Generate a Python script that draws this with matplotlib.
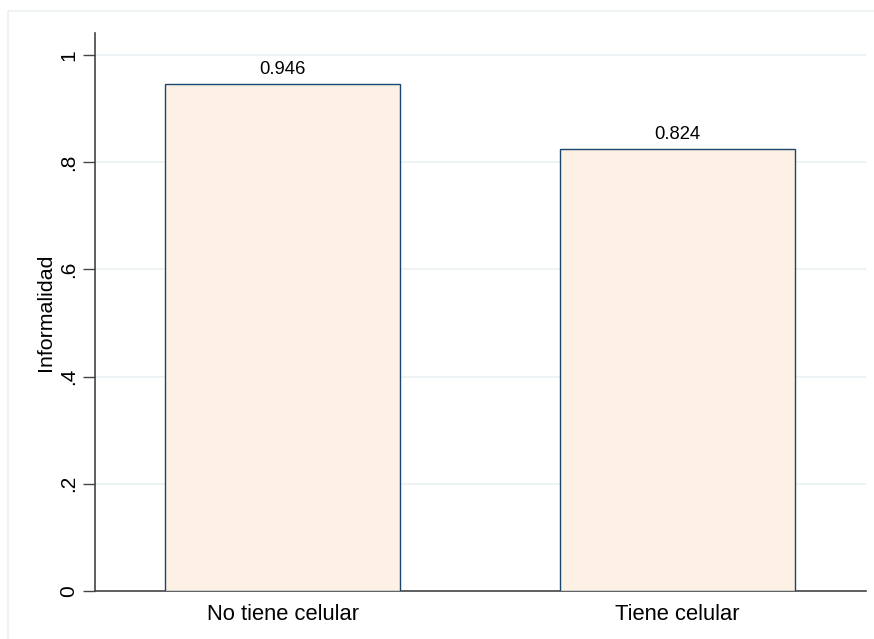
import matplotlib
matplotlib.use("Agg")
import matplotlib.pyplot as plt
from matplotlib.patches import Rectangle

categories = ["No tiene celular", "Tiene celular"]
values = [0.946, 0.824]
value_labels = ["0.946", "0.824"]
yticks = [0, 0.2, 0.4, 0.6, 0.8, 1.0]
ytick_labels = ["0", ".2", ".4", ".6", ".8", "1"]

plt.rcParams['font.family'] = ['Liberation Sans', 'DejaVu Sans']

W, H = 874, 639
fig = plt.figure(figsize=(W/100, H/100), dpi=100)
fig.patch.set_facecolor("white")

# outer light frame
fig.patches.append(Rectangle((8/W, -0.1), 1.1, (639-11)/H + 0.1, transform=fig.transFigure,
                             fill=False, edgecolor="#eaf0f2", linewidth=1.2))

ax = fig.add_axes([95/W, (H-591)/H, 771/W, (591-33)/H])
ax.set_facecolor("white")
x = list(range(len(categories)))
ax.bar(x, values, width=0.595, color="#fdf0e4", edgecolor="#1a476f", linewidth=1.0, zorder=3)
for xi, v, lab in zip(x, values, value_labels):
    ax.text(xi, v + 0.011, lab, ha="center", va="bottom", fontsize=13.3, color="black", zorder=4)

ax.set_xlim(-0.4747, 1.477)
ax.set_ylim(0, 1.041)
ax.set_yticks(yticks)
ax.set_yticklabels(ytick_labels, rotation=90, va="center", fontsize=15)
ax.set_xticks(x)
ax.set_xticklabels(categories, fontsize=15.8)
ax.tick_params(axis="x", length=0, pad=9)
ax.tick_params(axis="y", length=9, width=1, color="#444444", pad=3)
for yv in yticks[1:]:
    ax.axhline(yv, color="#eaf0f4", linewidth=1.2, zorder=1)
ax.spines["top"].set_visible(False)
ax.spines["right"].set_visible(False)
ax.spines["left"].set_color("#444444")
ax.spines["bottom"].set_color("#444444")
ax.spines["left"].set_linewidth(1.2)
ax.spines["bottom"].set_linewidth(1.2)
ax.set_ylabel("Informalidad", fontsize=15.4, labelpad=3)

fig.savefig("out.png", dpi=100)
